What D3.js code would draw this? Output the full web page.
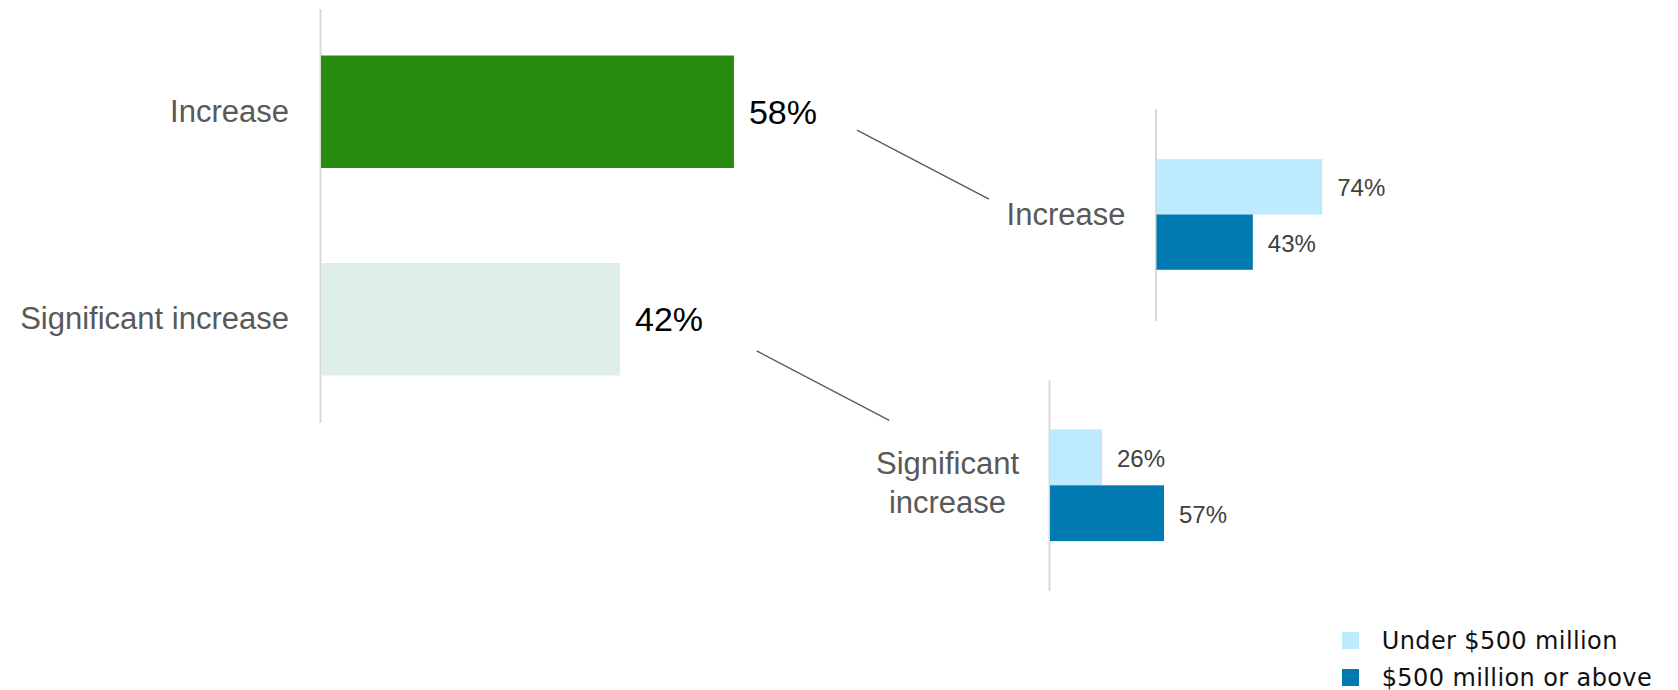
<!DOCTYPE html>
<html>
<head>
<meta charset="utf-8">
<script src="https://cdn.jsdelivr.net/npm/d3@7/dist/d3.min.js"></script>
<style>
  body { margin: 0; background: #fff; }
  svg { display: block; }
</style>
</head>
<body>
<svg width="1678" height="690"></svg>
<script>
var categories = ['Increase', 'Significant increase'];
var overall = [58, 42];
var seriesNames = ['Under $500 million', '$500 million or above'];
var increaseBySize = [74, 43];
var significantBySize = [26, 57];

var svg = d3.select('svg');
var font = '"Liberation Sans", Arial, sans-serif';
var labelGrey = '#595959';
var axisGrey = '#d9d9d9';
var mainColors = d3.scaleOrdinal().domain(categories).range(['#288a0f', '#ddeee8']);
var sizeColors = d3.scaleOrdinal().domain(seriesNames).range(['#bdeafc', '#007ab0']);

// ---- main chart ----
var mainX0 = 320;
var x = d3.scaleLinear().domain([0, 100]).range([0, 712]);
var y = d3.scaleBand().domain(categories).range([8.5, 422.5])
    .paddingInner(0.458).paddingOuter(0.2266);

var main = svg.append('g').attr('transform', 'translate(' + mainX0 + ',0)');

var yAxis = main.append('g')
    .call(d3.axisLeft(y).tickSize(0).tickSizeOuter(0).tickPadding(31));
yAxis.select('.domain').attr('stroke', axisGrey).attr('stroke-width', 2);
yAxis.selectAll('text')
    .attr('font-family', font).attr('font-size', 31)
    .attr('fill', labelGrey).attr('dy', '0.33em');

var mainData = categories.map(function(c, i) { return { cat: c, v: overall[i] }; });

main.selectAll('rect.bar').data(mainData).enter()
    .append('rect')
    .attr('class', 'bar')
    .attr('x', 1)
    .attr('y', function(d) { return y(d.cat); })
    .attr('width', function(d) { return x(d.v); })
    .attr('height', y.bandwidth())
    .attr('fill', function(d) { return mainColors(d.cat); });

main.selectAll('text.val').data(mainData).enter()
    .append('text')
    .attr('class', 'val')
    .attr('x', function(d) { return x(d.v) + 16; })
    .attr('y', function(d) { return y(d.cat) + y.bandwidth() / 2; })
    .attr('dy', '0.36em')
    .attr('font-family', font).attr('font-size', 34).attr('fill', '#000')
    .text(function(d) { return d.v + '%'; });

// ---- breakdown panels ----
var panels = [
    { cat: 'Increase', values: increaseBySize, x0: 1155.5, range: [108.5, 320.5], pad: 0.917, width: 224,
      lines: ['Increase'] },
    { cat: 'Significant increase', values: significantBySize, x0: 1049, range: [380, 590.6], pad: 0.887, width: 200,
      lines: ['Significant', 'increase'] }
];

panels.forEach(function(p) {
    var px = d3.scaleLinear().domain([0, 100]).range([0, p.width]);
    var py = d3.scaleBand().domain(seriesNames).range(p.range).paddingInner(0).paddingOuter(p.pad);
    var g = svg.append('g').attr('transform', 'translate(' + p.x0 + ',0)');

    var ax = g.append('g').call(d3.axisLeft(py).tickSize(0).tickSizeOuter(0).tickFormat(''));
    ax.select('.domain').attr('stroke', axisGrey).attr('stroke-width', 2);

    var rows = seriesNames.map(function(s, i) { return { s: s, v: p.values[i] }; });

    g.selectAll('rect').data(rows).enter()
        .append('rect')
        .attr('x', 1)
        .attr('y', function(d) { return py(d.s); })
        .attr('width', function(d) { return px(d.v); })
        .attr('height', py.bandwidth())
        .attr('fill', function(d) { return sizeColors(d.s); });

    g.selectAll('text.val').data(rows).enter()
        .append('text')
        .attr('class', 'val')
        .attr('x', function(d) { return px(d.v) + 16; })
        .attr('y', function(d) { return py(d.s) + py.bandwidth() / 2; })
        .attr('dy', '0.4em')
        .attr('font-family', font).attr('font-size', 24).attr('fill', '#404040')
        .text(function(d) { return d.v + '%'; });

    // category label, lines centred, block right edge 30px left of the axis
    var mid = py(seriesNames[0]) + py.bandwidth();
    var lineH = 38.7;
    var lbl = g.append('text')
        .attr('font-family', font).attr('font-size', 31).attr('fill', labelGrey)
        .attr('text-anchor', 'middle');
    var tspans = lbl.selectAll('tspan').data(p.lines).enter()
        .append('tspan')
        .attr('y', function(d, i) {
            return mid + (p.lines.length > 1 ? 8.5 : 10.5) + (i - (p.lines.length - 1) / 2) * lineH;
        })
        .text(function(d) { return d; });
    var maxW = 0;
    tspans.each(function() { maxW = Math.max(maxW, this.getComputedTextLength()); });
    tspans.attr('x', -30 - maxW / 2);
    p.mid = mid;
});

// ---- connector lines ----
var connectorOffsets = [
    { from: [124, 18.3], to: [-166.5, -15.3] },
    { from: [137.7, 31.7], to: [-159.7, -65] }
];
panels.forEach(function(p, i) {
    var v = overall[categories.indexOf(p.cat)];
    var o = connectorOffsets[i];
    svg.append('line')
        .attr('x1', mainX0 + x(v) + o.from[0])
        .attr('y1', y(p.cat) + y.bandwidth() / 2 + o.from[1])
        .attr('x2', p.x0 + o.to[0])
        .attr('y2', p.mid + o.to[1])
        .attr('stroke', '#595959')
        .attr('stroke-width', 1.3);
});

// ---- legend ----
var legend = svg.append('g').attr('transform', 'translate(1342,632)');
var items = legend.selectAll('g').data(seriesNames).enter()
    .append('g')
    .attr('transform', function(d, i) { return 'translate(0,' + (i * 37) + ')'; });
items.append('rect')
    .attr('width', 17).attr('height', 17)
    .attr('fill', function(d) { return sizeColors(d); });
items.append('text')
    .attr('x', 39.7).attr('y', 16.5)
    .attr('font-family', '"DejaVu Sans", sans-serif').attr('font-size', 24)
    .attr('letter-spacing', 0.4)
    .attr('fill', '#111')
    .text(function(d) { return d; });
</script>
</body>
</html>
